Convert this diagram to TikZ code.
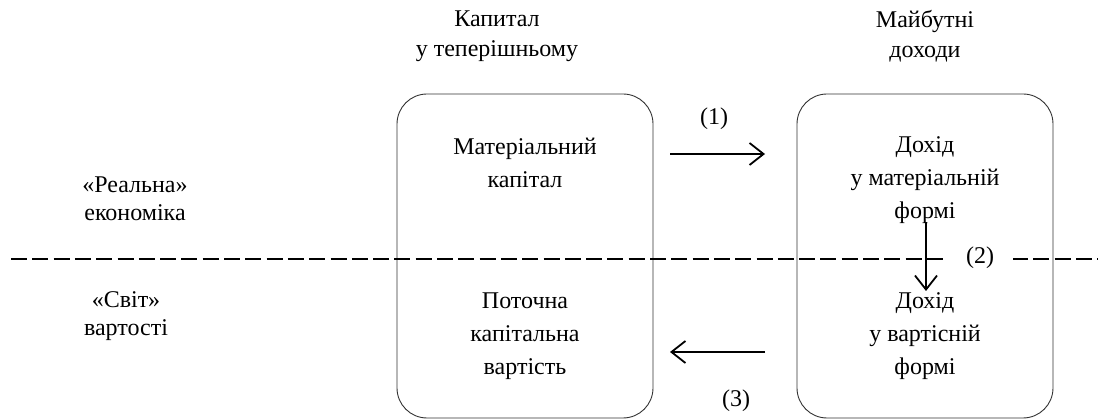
\documentclass[tikz,border=0pt]{standalone}
\usepackage{fontspec}
\setmainfont{Liberation Serif}
\usetikzlibrary{arrows.meta}
\begin{document}
\begin{tikzpicture}[x=1pt,y=-1pt,
  box/.style={draw=black!80, line width=0.9pt, rounded corners=30pt, minimum width=256pt, minimum height=324pt, inner sep=0pt},
  txt/.style={align=center, font=\fontsize{24}{33}\selectfont, inner sep=0pt},
  hdr/.style={align=center, font=\fontsize{24}{30}\selectfont, inner sep=0pt},
  side/.style={align=center, font=\fontsize{24}{28}\selectfont, inner sep=0pt},
  lbl/.style={font=\fontsize{24}{26}\selectfont, inner sep=0pt},
  arr/.style={line width=1.8pt, -{Straight Barb[length=14pt,width=22pt,line width=1.8pt]}}]
\useasboundingbox (0,0) rectangle (1098,419);
\node[box] (boxL) at (525,256) {};
\node[box] (boxR) at (925,256) {};
% dashed line
\coordinate (dl) at (11,259);
\coordinate (dr) at (1098,259);
\draw[line width=1.5pt, dash pattern=on 16pt off 5.3pt] (dl) -- (dr);
\node[lbl, fill=white, minimum width=66pt, minimum height=20pt] (l2) at (980,258) {(2)};
% headers
\node[hdr] (h1) at (497,36) {Капитал\\у теперішньому};
\node[hdr] (h2) at (925,36) {Майбутні\\доходи};
% side labels
\node[side] (s1) at (135,199) {«Реальна»\\економіка};
\node[side] (s2) at (126,316) {«Світ»\\вартості};
% box texts
\node[txt] (t1) at (525,163) {Матеріальний\\капітал};
\node[txt] (t2) at (525,336) {Поточна\\капітальна\\вартість};
\node[txt] (t3) at (925,180) {Дохід\\у матеріальній\\формі};
\node[txt] (t4) at (925,336) {Дохід\\у вартісній\\формі};
% arrows
\coordinate (a1s) at (670,154);
\coordinate (a1e) at (765,154);
\draw[arr] (a1s) -- (a1e);
\node[lbl] (l1) at (714,119) {(1)};
\coordinate (a2s) at (926,222);
\coordinate (a2e) at (926,291);
\draw[arr] (a2s) -- (a2e);
\coordinate (a3s) at (765,352);
\coordinate (a3e) at (670,352);
\draw[arr] (a3s) -- (a3e);
\node[lbl] (l3) at (736,401) {(3)};
\end{tikzpicture}
\end{document}
